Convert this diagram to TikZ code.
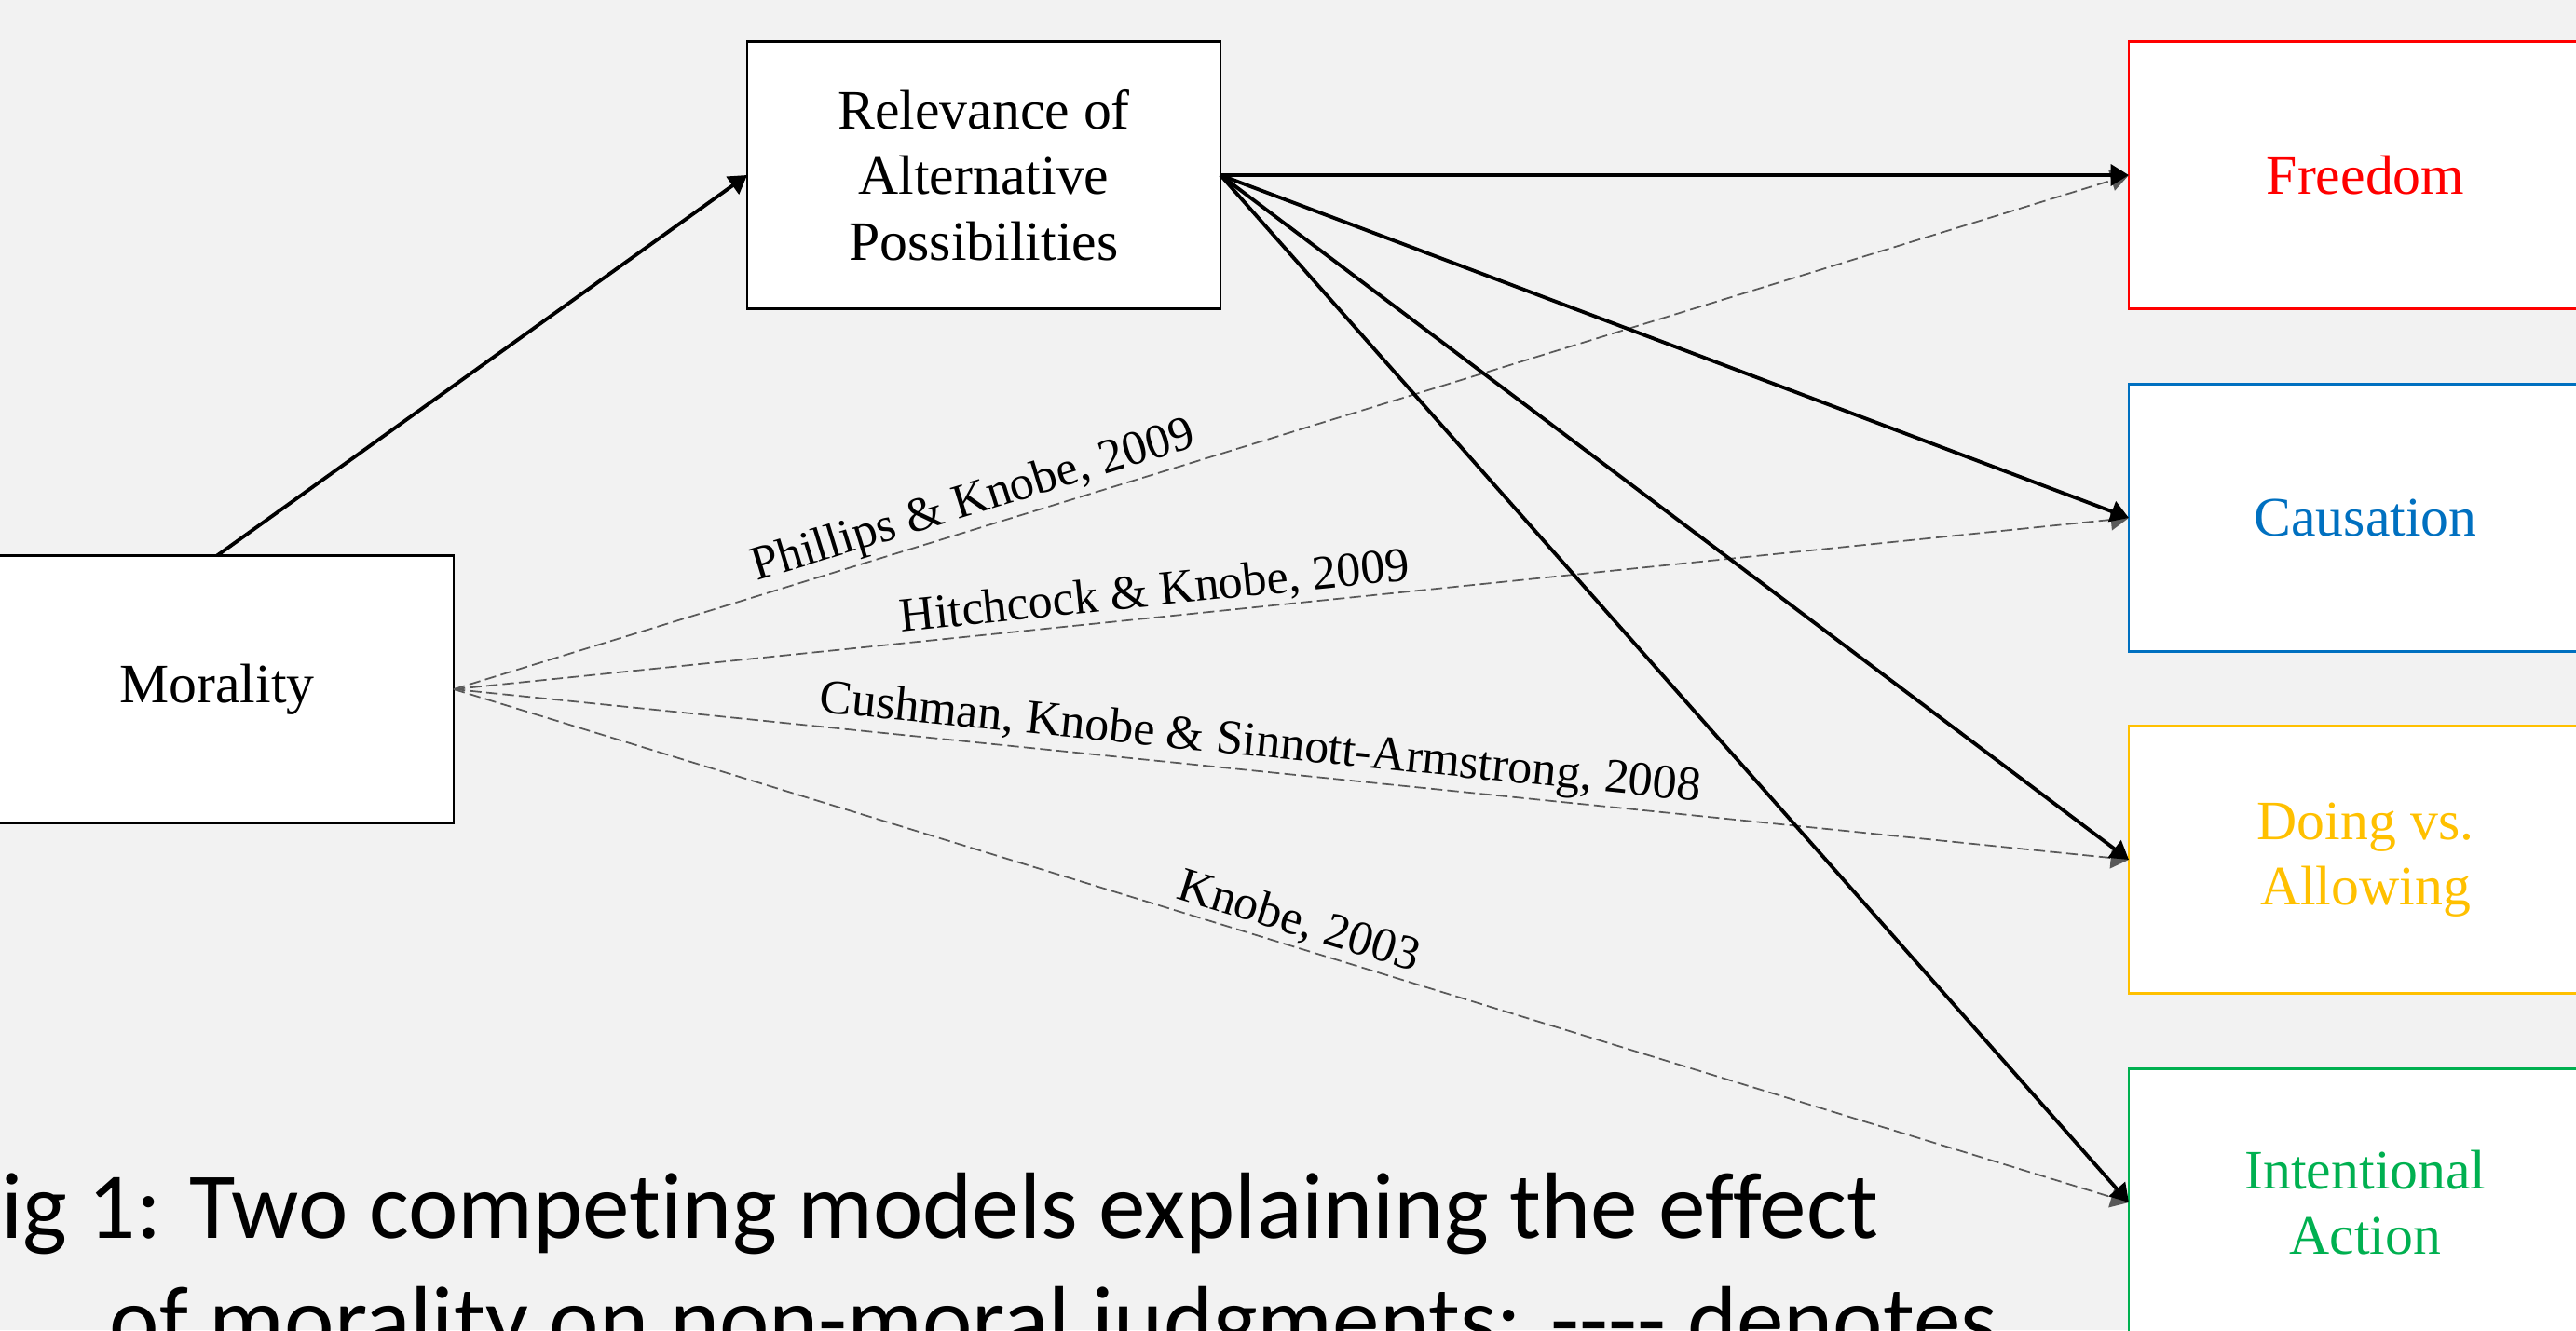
\documentclass[tikz,border=0pt]{standalone}
\usepackage{fontspec}
\setmainfont{Liberation Serif}
\newfontfamily\capfont{Carlito}[Ligatures=NoCommon]
\usetikzlibrary{arrows.meta, positioning}

\definecolor{paper}{HTML}{F2F2F2}
\definecolor{freered}{HTML}{FF0000}
\definecolor{causeblue}{HTML}{0070C0}
\definecolor{doinggold}{HTML}{FFC000}
\definecolor{intgreen}{HTML}{00B050}
\definecolor{citegray}{HTML}{595959}

\begin{document}
\begin{tikzpicture}[
  every node/.style={font=\fontsize{17}{20}\selectfont},
  box/.style={draw, line width=0.8pt, fill=white, minimum width=50.8mm, minimum height=28.7mm, inner sep=0pt, outer sep=0pt, align=center},
  judg/.style={box, draw=#1, text=#1, line width=0.7pt},
  arr/.style={-{Triangle[length=5.5pt,width=6.5pt]}, line width=1.1pt},
  cite/.style={-{Triangle[length=5.5pt,width=6.5pt]}, draw=citegray, line width=0.5pt, dash pattern=on 3.5pt off 1.5pt},
  citelab/.style={sloped, above, inner sep=1pt, font=\fontsize{14.8}{17}\selectfont},
  caption/.style={anchor=base west, inner sep=0pt, font=\capfont\fontsize{28.8}{34}\selectfont}
]
  \fill[paper] (0,0) rectangle (27.65,14.28);
  \useasboundingbox (0,0) rectangle (27.65,14.28);

  \node[box] (M) at (2.33,6.88) {Morality};
  \node[box] (R) at (10.56,12.40) {Relevance of\\Alternative\\Possibilities};
  \node[judg=freered] (F) at (25.39,12.40) {Freedom};
  \node[judg=causeblue] (C) at (25.39,8.72) {Causation};
  \node[judg=doinggold] (D) at (25.39,5.05) {Doing vs.\\Allowing};
  \node[judg=intgreen] (I) at (25.39,1.37) {Intentional\\Action};

  % direct effects of morality (dashed)
  \draw[cite] (M.east) -- node[citelab, pos=0.315] {Phillips \& Knobe, 2009} (F.west);
  \draw[cite] (M.east) -- node[citelab, pos=0.42] {Hitchcock \& Knobe, 2009} (C.west);
  \draw[cite] (M.east) -- node[citelab, pos=0.48] {Cushman, Knobe \& Sinnott-Armstrong, 2008} (D.west);
  \draw[cite] (M.east) -- node[citelab, pos=0.50] {Knobe, 2003} (I.west);

  % path through alternative possibilities
  \draw[arr] (M.north) -- (R.west);
  \foreach \t in {F,C,D,I}
    \draw[arr] (R.east) -- (\t.west);

  \node[caption] (cap1) at (-0.46,0.99) {Fig 1: Two competing models explaining the effect};
  \node[caption] (cap2) at (1.17,-0.23) {of morality on non-moral judgments: -{}-{}-{}- denotes};
\end{tikzpicture}
\end{document}
